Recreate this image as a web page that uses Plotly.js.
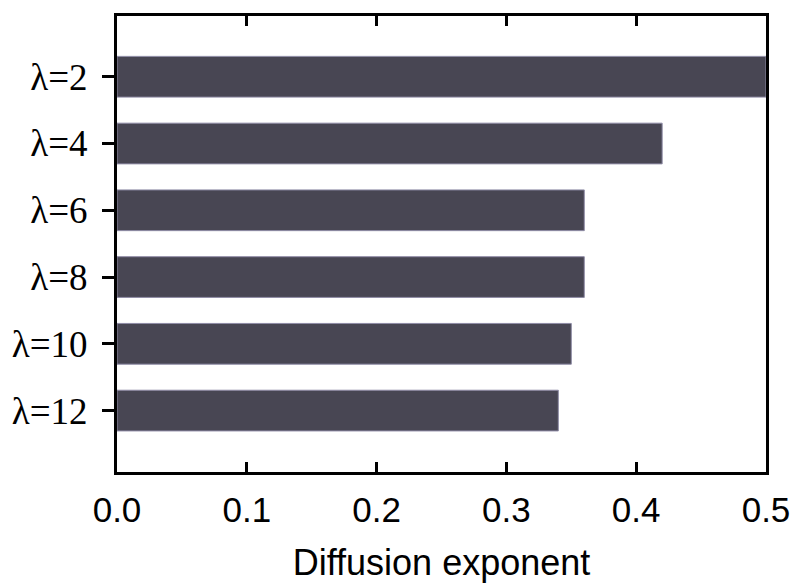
<!DOCTYPE html>
<html>
<head>
<meta charset="utf-8">
<script src="https://cdn.plot.ly/plotly-3.0.1.min.js"></script>
<style>html,body{margin:0;padding:0;background:#fff;}#chart{width:792px;height:583px;}</style>
</head>
<body>
<div id="chart"></div>
<script>
const categories = ["λ=2", "λ=4", "λ=6", "λ=8", "λ=10", "λ=12"];
const exponents = [0.50, 0.42, 0.36, 0.36, 0.35, 0.34];
const xTickVals = [0.0, 0.1, 0.2, 0.3, 0.4, 0.5];
const xTickText = ["0.0", "0.1", "0.2", "0.3", "0.4", "0.5"];

const trace = {
  type: "bar",
  orientation: "h",
  x: exponents,
  y: categories,
  width: 0.61,
  marker: {color: "#484653", line: {color: "#8f8ca6", width: 1}},
  hoverinfo: "x+y"
};

const layout = {
  width: 792, height: 583,
  margin: {l: 117, r: 26, t: 16, b: 111},
  paper_bgcolor: "#ffffff",
  plot_bgcolor: "#ffffff",
  showlegend: false,
  xaxis: {
    range: [0, 0.5],
    tickvals: xTickVals,
    ticktext: xTickText,
    ticks: "inside",
    ticklen: 10,
    tickwidth: 3,
    tickcolor: "#000",
    showline: true,
    linewidth: 3,
    linecolor: "#000",
    mirror: "ticks",
    showgrid: false,
    zeroline: false,
    ticklabelstandoff: 5,
    tickfont: {family: "Liberation Sans, Arial, sans-serif", size: 35, color: "#000"},
    title: {text: "Diffusion exponent", font: {family: "Liberation Sans, Arial, sans-serif", size: 36, color: "#000"}, standoff: 29}
  },
  yaxis: {
    type: "category",
    categoryorder: "array",
    categoryarray: categories,
    range: [5.92, -0.91],
    ticks: "outside",
    ticklen: 12,
    tickwidth: 3,
    tickcolor: "#000",
    showline: true,
    linewidth: 3,
    linecolor: "#000",
    mirror: true,
    showgrid: false,
    zeroline: false,
    ticklabelstandoff: 7,
    tickfont: {family: "Liberation Serif, Times New Roman, serif", size: 37, color: "#000"}
  }
};

Plotly.newPlot("chart", [trace], layout, {displayModeBar: false, staticPlot: true});
</script>
</body>
</html>
